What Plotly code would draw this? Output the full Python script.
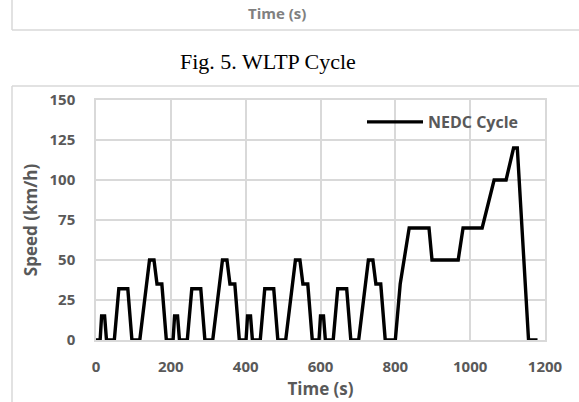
import plotly.graph_objects as go

# NEDC cycle breakpoints
time_s = [0, 11, 15, 23, 28, 49, 61, 85, 96, 117, 143, 155, 163, 176, 188,
          195, 206, 210, 218, 223, 244, 256, 280, 291, 312, 338, 350, 358, 371, 383,
          390, 401, 405, 413, 418, 439, 451, 475, 486, 507, 533, 545, 553, 566, 578,
          585, 596, 600, 608, 613, 634, 646, 670, 681, 702, 728, 740, 748, 761, 773,
          800, 813, 837, 890, 898, 968, 981, 1032, 1064, 1096, 1116, 1126, 1156, 1180]
speed_kmh = [0, 0, 15, 15, 0, 0, 32, 32, 0, 0, 50, 50, 35, 35, 0,
             0, 0, 15, 15, 0, 0, 32, 32, 0, 0, 50, 50, 35, 35, 0,
             0, 0, 15, 15, 0, 0, 32, 32, 0, 0, 50, 50, 35, 35, 0,
             0, 0, 15, 15, 0, 0, 32, 32, 0, 0, 50, 50, 35, 35, 0,
             0, 35, 70, 70, 50, 50, 70, 70, 100, 100, 120, 120, 0, 0]
x_ticks = [0, 200, 400, 600, 800, 1000, 1200]
y_ticks = [0, 25, 50, 75, 100, 125, 150]
series_name = "NEDC Cycle"
x_title = "Time (s)"
y_title = "Speed (km/h)"
caption = "Fig. 5. WLTP Cycle"

W, H = 579, 402
L, R, T, B = 96, 545, 100, 340

GRID = "#d9d9d9"
TXT = "#595959"
FONT = "Open Sans"

pw, ph = R - L, B - T
def fx(x):
    return (x - L) / pw
def fy(y):
    return (B - y) / ph

fig = go.Figure()
fig.add_trace(go.Scatter(x=time_s, y=speed_kmh, mode="lines", name=series_name,
                         line=dict(color="black", width=3.4)))

fig.update_layout(
    width=W, height=H,
    margin=dict(l=L, r=W - R, t=T, b=H - B, pad=0, autoexpand=False),
    paper_bgcolor="white", plot_bgcolor="white",
    showlegend=True,
    legend=dict(x=fx(362), y=fy(122), xanchor="left", yanchor="middle",
                bgcolor="rgba(0,0,0,0)",
                font=dict(family=FONT, size=16, color=TXT, weight="bold"),
                itemwidth=56),
    xaxis=dict(range=[0, 1200], tickvals=x_ticks, ticktext=[str(v) for v in x_ticks],
               showgrid=True, gridcolor=GRID, gridwidth=1.5,
               showline=True, linecolor=GRID, linewidth=1.5, mirror=True,
               zeroline=False, ticks="", ticklen=0, automargin=False,
               ticklabelstandoff=12,
               tickfont=dict(family=FONT, size=15, color=TXT, weight="bold"),
               title=dict(text=x_title, standoff=8,
                          font=dict(family=FONT, size=17, color=TXT, weight="bold"))),
    yaxis=dict(range=[0, 150], tickvals=y_ticks, ticktext=[str(v) for v in y_ticks],
               showgrid=True, gridcolor=GRID, gridwidth=1.5,
               showline=True, linecolor=GRID, linewidth=1.5, mirror=True,
               zeroline=False, ticks="", ticklen=0, automargin=False,
               ticklabelstandoff=16,
               tickfont=dict(family=FONT, size=15, color=TXT, weight="bold"),
               title=dict(text=y_title, standoff=8,
                          font=dict(family=FONT, size=17, color=TXT, weight="bold"))),
    annotations=[
        dict(text=x_title, xref="paper", yref="paper", x=fx(277), y=fy(13),
             xanchor="center", yanchor="middle", showarrow=False,
             font=dict(family=FONT, size=15, color="#808080", weight="bold")),
        dict(text=caption, xref="paper", yref="paper", x=fx(268), y=fy(62),
             xanchor="center", yanchor="middle", showarrow=False,
             font=dict(family="Liberation Serif", size=22, color="black")),
    ],
)

for (x0, y0, x1, y1) in [(12, 30, W, 30), (12, 0, 12, 30), (12, 86, W, 86), (12, 86, 12, H)]:
    fig.add_shape(type="line", xref="paper", yref="paper",
                  x0=fx(x0), y0=fy(y0), x1=fx(x1), y1=fy(y1),
                  line=dict(color=GRID, width=1.5))

fig.write_html("out.html", config={"displayModeBar": False},
               post_script="document.body.style.margin='0';document.body.style.padding='0';")
